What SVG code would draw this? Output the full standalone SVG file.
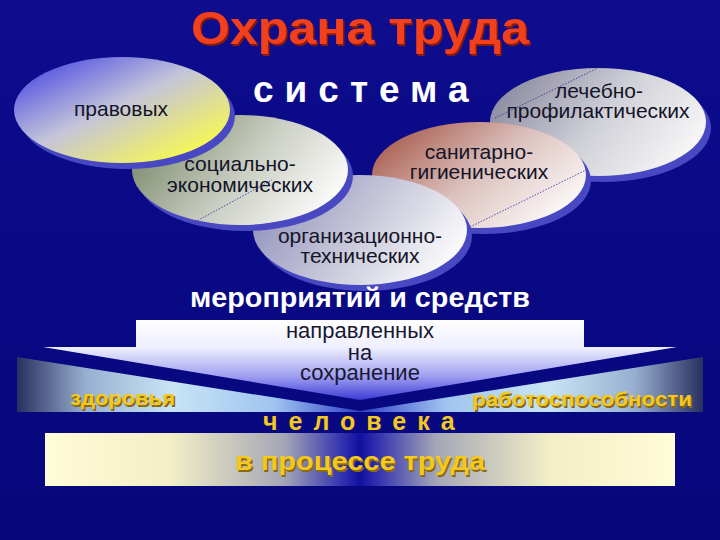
<svg xmlns="http://www.w3.org/2000/svg" width="720" height="540" viewBox="0 0 720 540">
<defs>
  <linearGradient id="bg" x1="0" y1="0" x2="0" y2="1">
    <stop offset="0" stop-color="#0d0d8e"/>
    <stop offset="1" stop-color="#06067c"/>
  </linearGradient>
  <linearGradient id="gPrav" x1="0.1" y1="0.15" x2="0.85" y2="0.9">
    <stop offset="0" stop-color="#5c5ce2"/>
    <stop offset="0.45" stop-color="#c4c4da"/>
    <stop offset="1" stop-color="#f8f852"/>
  </linearGradient>
  <linearGradient id="gSoc" x1="0" y1="0.3" x2="1" y2="0.7">
    <stop offset="0" stop-color="#7a8a6a"/>
    <stop offset="0.5" stop-color="#c8ccc0"/>
    <stop offset="1" stop-color="#ffffff"/>
  </linearGradient>
  <linearGradient id="gOrg" x1="0" y1="0.3" x2="1" y2="0.7">
    <stop offset="0" stop-color="#9090bc"/>
    <stop offset="0.5" stop-color="#c8c8da"/>
    <stop offset="1" stop-color="#ffffff"/>
  </linearGradient>
  <linearGradient id="gSan" x1="0" y1="0.2" x2="1" y2="0.8">
    <stop offset="0" stop-color="#a85a4c"/>
    <stop offset="0.5" stop-color="#dcc2be"/>
    <stop offset="1" stop-color="#ffffff"/>
  </linearGradient>
  <linearGradient id="gLech" x1="0" y1="0.3" x2="1" y2="0.7">
    <stop offset="0" stop-color="#8a8aa0"/>
    <stop offset="0.5" stop-color="#d0d0d8"/>
    <stop offset="1" stop-color="#fafafa"/>
  </linearGradient>
  <linearGradient id="gWhite" x1="0" y1="320" x2="0" y2="400" gradientUnits="userSpaceOnUse">
    <stop offset="0" stop-color="#ffffff"/>
    <stop offset="0.35" stop-color="#eeeeff"/>
    <stop offset="0.7" stop-color="#a0a0f2"/>
    <stop offset="1" stop-color="#3c3cd6"/>
  </linearGradient>
  <linearGradient id="gBandL" x1="17" y1="0" x2="360" y2="0" gradientUnits="userSpaceOnUse">
    <stop offset="0" stop-color="#283060"/>
    <stop offset="0.2" stop-color="#98b0d0"/>
    <stop offset="0.45" stop-color="#c8e4f4"/>
    <stop offset="0.75" stop-color="#a0c4f0"/>
    <stop offset="1" stop-color="#3040c8"/>
  </linearGradient>
  <linearGradient id="gBandR" x1="703" y1="0" x2="360" y2="0" gradientUnits="userSpaceOnUse">
    <stop offset="0" stop-color="#283060"/>
    <stop offset="0.2" stop-color="#98b0d0"/>
    <stop offset="0.45" stop-color="#c8e4f4"/>
    <stop offset="0.75" stop-color="#a0c4f0"/>
    <stop offset="1" stop-color="#3040c8"/>
  </linearGradient>
  <linearGradient id="gBottom" x1="45" y1="0" x2="675" y2="0" gradientUnits="userSpaceOnUse">
    <stop offset="0" stop-color="#fffcd8"/>
    <stop offset="0.2" stop-color="#f2eec6"/>
    <stop offset="0.38" stop-color="#a4a6b6"/>
    <stop offset="0.47" stop-color="#3434b0"/>
    <stop offset="0.5" stop-color="#1010a0"/>
    <stop offset="0.53" stop-color="#3434b0"/>
    <stop offset="0.62" stop-color="#a4a6b6"/>
    <stop offset="0.8" stop-color="#f2eec6"/>
    <stop offset="1" stop-color="#fffcd8"/>
  </linearGradient>
</defs>
<style>
  .shadow { fill: #4848c2; }
  .lbl { font-family: "Liberation Sans", Arial, sans-serif; font-size: 21px; fill: #141428; text-anchor: middle; }
  .mid { font-family: "Liberation Sans", Arial, sans-serif; font-size: 22px; fill: #181830; text-anchor: middle; }
  .yel { font-family: "Liberation Sans", Arial, sans-serif; font-weight: bold; fill: #f4c81c; }
  .yelsh { font-family: "Liberation Sans", Arial, sans-serif; font-weight: bold; fill: #8a6a10; }
  .wht { font-family: "Liberation Sans", Arial, sans-serif; font-weight: bold; fill: #ffffff; }
  .dots { stroke: #2c2c9a; stroke-width: 0.8; stroke-dasharray: 1.5 1.5; fill: none; }
</style>
<rect x="0" y="0" width="720" height="540" fill="url(#bg)"/>

<g id="title">
  <text x="360" y="44" text-anchor="middle" textLength="338" lengthAdjust="spacingAndGlyphs" font-family="Liberation Sans, Arial, sans-serif" font-weight="bold" font-size="46" fill="#8a1a0a" dx="1.5" dy="1.5">Охрана труда</text>
  <text x="360" y="44" text-anchor="middle" textLength="338" lengthAdjust="spacingAndGlyphs" font-family="Liberation Sans, Arial, sans-serif" font-weight="bold" font-size="46" fill="#f2401c">Охрана труда</text>
</g>

<g id="node-lech">
  <ellipse class="shadow" cx="603" cy="128" rx="108" ry="54"/>
  <ellipse cx="598" cy="122" rx="108" ry="54" fill="url(#gLech)"/>
  <text class="lbl" x="599" y="98">лечебно-</text>
  <text class="lbl" x="598" y="118">профилактических</text>
</g>
<g id="node-san">
  <ellipse class="shadow" cx="484" cy="181" rx="107" ry="53"/>
  <ellipse cx="479" cy="175" rx="107" ry="53" fill="url(#gSan)"/>
  <text class="lbl" x="479" y="159">санитарно-</text>
  <text class="lbl" x="479" y="179">гигиенических</text>
</g>
<g id="node-org">
  <ellipse class="shadow" cx="365" cy="236" rx="107" ry="55"/>
  <ellipse cx="360" cy="230" rx="107" ry="55" fill="url(#gOrg)"/>
  <text class="lbl" x="360" y="243">организационно-</text>
  <text class="lbl" x="360" y="263">технических</text>
</g>
<g id="node-soc">
  <ellipse class="shadow" cx="245" cy="176" rx="108" ry="55"/>
  <ellipse cx="240" cy="170" rx="108" ry="55" fill="url(#gSoc)"/>
  <text class="lbl" x="240" y="171">социально-</text>
  <text class="lbl" x="240" y="192">экономических</text>
</g>
<g id="node-prav">
  <ellipse class="shadow" cx="127" cy="116" rx="108" ry="53"/>
  <ellipse cx="122" cy="110" rx="108" ry="53" fill="url(#gPrav)"/>
  <text class="lbl" x="121" y="116">правовых</text>
</g>

<g id="connectors">
  <line class="dots" x1="195" y1="222" x2="272" y2="180"/>
  <line class="dots" x1="470" y1="227" x2="586" y2="170"/>
  <line class="dots" x1="495" y1="118" x2="598" y2="68"/>
</g>

<g id="sistema">
  <text class="wht" x="253" y="102" font-size="37" letter-spacing="11">система</text>
</g>

<g id="meropr">
  <text class="wht" x="360" y="307" text-anchor="middle" font-size="27" textLength="340" lengthAdjust="spacingAndGlyphs">мероприятий и средств</text>
</g>

<g id="chevron">
  <polygon points="136,320 584,320 584,347 677,347 360,400 43,347 136,347" fill="url(#gWhite)"/>
  <polygon points="17,357 360,411 360,412 17,412" fill="url(#gBandL)"/>
  <polygon points="703,357 703,412 360,412 360,411" fill="url(#gBandR)"/>
  <text class="mid" x="360" y="338">направленных</text>
  <text class="mid" x="360" y="360">на</text>
  <text class="mid" x="360" y="380">сохранение</text>
</g>

<g id="zdorov">
  <text class="yelsh" x="71.5" y="406.5" font-size="21" textLength="105" lengthAdjust="spacingAndGlyphs">здоровья</text>
  <text class="yel" x="70" y="405" font-size="21" textLength="105" lengthAdjust="spacingAndGlyphs">здоровья</text>
</g>
<g id="rabot">
  <text class="yelsh" x="473.5" y="407.5" font-size="21" textLength="220" lengthAdjust="spacingAndGlyphs">работоспособности</text>
  <text class="yel" x="472" y="406" font-size="21" textLength="220" lengthAdjust="spacingAndGlyphs">работоспособности</text>
</g>
<g id="chelovek">
  <text class="yel" x="263" y="430" font-size="25" letter-spacing="11">человека</text>
</g>

<g id="process">
  <rect x="45" y="433" width="630" height="53" fill="url(#gBottom)"/>
  <text class="yelsh" x="361.5" y="471.5" text-anchor="middle" font-size="26" textLength="250" lengthAdjust="spacingAndGlyphs">в процессе труда</text>
  <text class="yel" x="360" y="470" text-anchor="middle" font-size="26" textLength="250" lengthAdjust="spacingAndGlyphs">в процессе труда</text>
</g>
</svg>
